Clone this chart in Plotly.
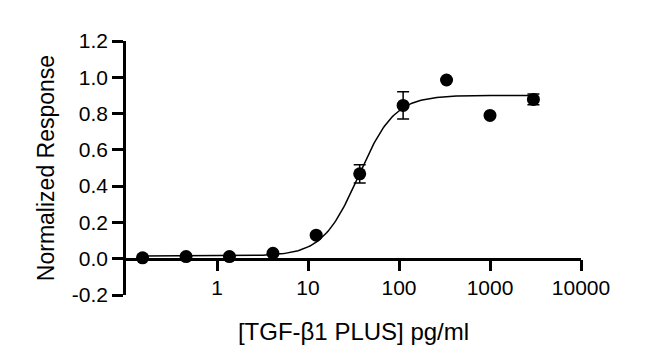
import numpy as np
import plotly.graph_objects as go

# Data (3-fold dilutions, pg/ml)
conc = [0.152, 0.457, 1.37, 4.12, 12.3, 37.0, 111.0, 333.0, 1000.0, 3000.0]
response = [0.005, 0.012, 0.012, 0.03, 0.13, 0.468, 0.845, 0.985, 0.79, 0.878]
err = [0, 0, 0, 0, 0, 0.05, 0.075, 0, 0, 0.03]

# 4PL fit parameters
fit_bottom = 0.015
fit_top = 0.90
fit_ec50 = 36.0
fit_hill = 2.2

x_tickvals = [1, 10, 100, 1000, 10000]
x_ticktext = ["1", "10", "100", "1000", "10000"]
y_tickvals = [-0.2, 0, 0.2, 0.4, 0.6, 0.8, 1.0, 1.2]
y_ticktext = ["-0.2", "0.0", "0.2", "0.4", "0.6", "0.8", "1.0", "1.2"]

xs = np.logspace(np.log10(conc[0]), np.log10(conc[-1]), 300)
ys = fit_bottom + (fit_top - fit_bottom) / (1 + (fit_ec50 / xs) ** fit_hill)

font = "Liberation Sans, Arial, sans-serif"

fig = go.Figure()
fig.add_trace(go.Scatter(x=xs, y=ys, mode="lines",
                         line=dict(color="black", width=1.5),
                         hoverinfo="skip", showlegend=False))
fig.add_trace(go.Scatter(x=conc, y=response, mode="markers",
                         marker=dict(color="black", size=13),
                         error_y=dict(type="data", array=err, visible=True,
                                      color="black", thickness=1.5, width=6),
                         showlegend=False))

fig.update_layout(
    width=650, height=362,
    margin=dict(l=126, r=69, t=41, b=67),
    plot_bgcolor="white", paper_bgcolor="white",
    font=dict(family=font, size=21, color="black"),
    xaxis=dict(type="log", range=[-1, 4],
               tickvals=x_tickvals, ticktext=x_ticktext,
               showgrid=False, zeroline=False, automargin=False,
               showline=True, linecolor="black", linewidth=2.5,
               ticks="outside", ticklen=11, tickwidth=2.5, tickcolor="black",
               anchor="free", position=0.2 / 1.4,
               ticklabelstandoff=-2,
               title=dict(text="[TGF-β1 PLUS] pg/ml", font=dict(size=24),
                          standoff=25)),
    yaxis=dict(range=[-0.2, 1.2], tickvals=y_tickvals, ticktext=y_ticktext,
               showgrid=False, zeroline=False, automargin=False,
               showline=True, linecolor="black", linewidth=2.5,
               ticks="outside", ticklen=11, tickwidth=2.5, tickcolor="black",
               title=dict(text="Normalized Response", font=dict(size=23),
                          standoff=11)),
)

fig.write_html("out.html", config={"displayModeBar": False},
               post_script="document.body.style.margin='0';")
